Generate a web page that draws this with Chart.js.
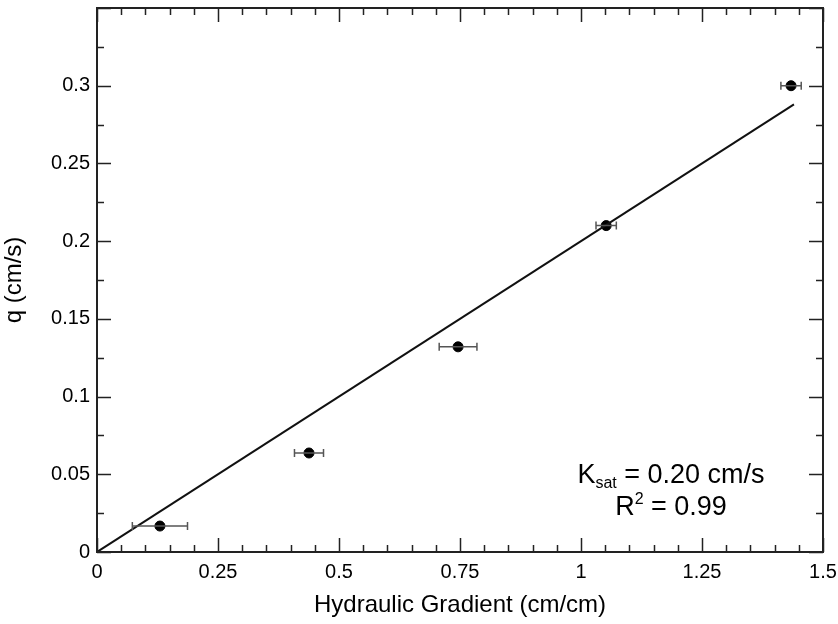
<!doctype html>
<html>
	<head>
		<title>Hydraulic gradient vs flux</title>
		<script src="https://cdn.jsdelivr.net/npm/chart.js@4/dist/chart.umd.min.js"></script>
		<style>
			html, body { margin: 0; padding: 0; background: #fff; }
			#wrap { width: 838px; height: 624px; }
		</style>
	</head>
	<body>
		<div id="wrap"><canvas id="canvas_0" width="838" height="624"></canvas></div>
		<script>
			// measured points
			var gradient = [0.130, 0.438, 0.746, 1.052, 1.434];
			var flux = [0.0167, 0.0637, 0.132, 0.210, 0.300];
			var gradientErr = [0.057, 0.030, 0.039, 0.021, 0.021];
			// fitted line end points
			var fitX = [0, 1.44];
			var fitY = [0, 0.288];
			var xTicks = [0, 0.25, 0.5, 0.75, 1, 1.25, 1.5];
			var yTicks = [0, 0.05, 0.1, 0.15, 0.2, 0.25, 0.3];

			var font = "'Liberation Sans', Arial, sans-serif";

			function drawParts(ctx, parts, cx, baseline) {
				var total = 0;
				parts.forEach(function(p) { ctx.font = p[1] + 'px ' + font; total += ctx.measureText(p[0]).width; });
				var x = cx - total / 2;
				parts.forEach(function(p) {
					ctx.font = p[1] + 'px ' + font;
					ctx.fillText(p[0], x, baseline + p[2]);
					x += ctx.measureText(p[0]).width;
				});
			}

			var frame = {
				id: 'frame',
				afterDatasetsDraw: function(chart) {
					var ctx = chart.ctx, a = chart.chartArea;
					var xs = chart.scales.x, ys = chart.scales.y;
					ctx.save();
					// error bars
					ctx.strokeStyle = '#555';
					ctx.lineWidth = 1.5;
					for (var i = 0; i < gradient.length; i++) {
						var x0 = xs.getPixelForValue(gradient[i] - gradientErr[i]);
						var x1 = xs.getPixelForValue(gradient[i] + gradientErr[i]);
						var py = ys.getPixelForValue(flux[i]);
						ctx.beginPath();
						ctx.moveTo(x0, py); ctx.lineTo(x1, py);
						ctx.moveTo(x0, py - 4); ctx.lineTo(x0, py + 4);
						ctx.moveTo(x1, py - 4); ctx.lineTo(x1, py + 4);
						ctx.stroke();
					}
					// frame
					ctx.strokeStyle = '#222';
					ctx.lineWidth = 2;
					ctx.strokeRect(a.left, a.top, a.right - a.left, a.bottom - a.top);
					// inward ticks, x
					ctx.lineWidth = 1.5;
					ctx.beginPath();
					for (var k = 0; k <= 30; k++) {
						var px = Math.round(xs.getPixelForValue(k * 0.05)) + 0.5;
						var len = (k % 5 === 0) ? 14 : 7;
						ctx.moveTo(px, a.bottom); ctx.lineTo(px, a.bottom - len);
						ctx.moveTo(px, a.top); ctx.lineTo(px, a.top + len);
					}
					// inward ticks, y
					for (var m = 0; m <= 14; m++) {
						var yy = Math.round(ys.getPixelForValue(m * 0.025)) + 0.5;
						var l2 = (m % 2 === 0) ? 14 : 7;
						ctx.moveTo(a.left, yy); ctx.lineTo(a.left + l2, yy);
						ctx.moveTo(a.right, yy); ctx.lineTo(a.right - l2, yy);
					}
					ctx.stroke();
					// annotation
					ctx.fillStyle = '#000';
					ctx.textBaseline = 'alphabetic';
					ctx.textAlign = 'left';
					var cx = xs.getPixelForValue(1.186);
					drawParts(ctx, [['K', 27, 0], ['sat', 16, 5], [' = 0.20 cm/s', 27, 0]], cx, ys.getPixelForValue(0.0444));
					drawParts(ctx, [['R', 27, 0], ['2', 16, -11], [' = 0.99', 27, 0]], cx, ys.getPixelForValue(0.0238));
					ctx.restore();
				}
			};

			window.onload = function() {
				var canvas = document.getElementById('canvas_0');
				var points = gradient.map(function(g, i) { return { x: g, y: flux[i] }; });
				var fit = fitX.map(function(g, i) { return { x: g, y: fitY[i] }; });

				new Chart(canvas.getContext('2d'), {
					type: 'scatter',
					data: {
						datasets: [{
							type: 'line',
							data: fit,
							borderColor: '#111',
							borderWidth: 2,
							pointRadius: 0,
							fill: false
						}, {
							data: points,
							backgroundColor: '#000',
							borderColor: '#000',
							pointRadius: 5
						}]
					},
					options: {
						responsive: false,
						animation: false,
						layout: { padding: { top: 8, right: 15, left: 0, bottom: 0 } },
						plugins: { legend: { display: false }, tooltip: { enabled: false } },
						scales: {
							x: {
								type: 'linear',
								min: 0, max: 1.5,
								afterFit: function(s) { s.height = 72; s.paddingLeft = 0; s.paddingRight = 0; },
								afterBuildTicks: function(s) { s.ticks = xTicks.map(function(v) { return { value: v }; }); },
								grid: { display: false, drawTicks: false },
								border: { display: false },
								ticks: {
									padding: 8,
									color: '#000',
									font: { family: font, size: 20 },
									callback: function(v) { return String(v); }
								},
								title: {
									display: true,
									text: 'Hydraulic Gradient (cm/cm)',
									color: '#000',
									font: { family: font, size: 24 },
									padding: { top: 0, bottom: 4 }
								}
							},
							y: {
								type: 'linear',
								min: 0, max: 0.35,
								afterFit: function(s) { s.width = 97; s.paddingTop = 0; s.paddingBottom = 0; },
								afterBuildTicks: function(s) { s.ticks = yTicks.map(function(v) { return { value: v }; }); },
								grid: { display: false, drawTicks: false },
								border: { display: false },
								ticks: {
									padding: 7,
									color: '#000',
									font: { family: font, size: 20 },
									callback: function(v) { return String(v); }
								},
								title: {
									display: true,
									text: 'q (cm/s)',
									color: '#000',
									font: { family: font, size: 24 },
									padding: { top: 0, bottom: 4 }
								}
							}
						}
					},
					plugins: [frame]
				});
			};
		</script>
	</body>
</html>
